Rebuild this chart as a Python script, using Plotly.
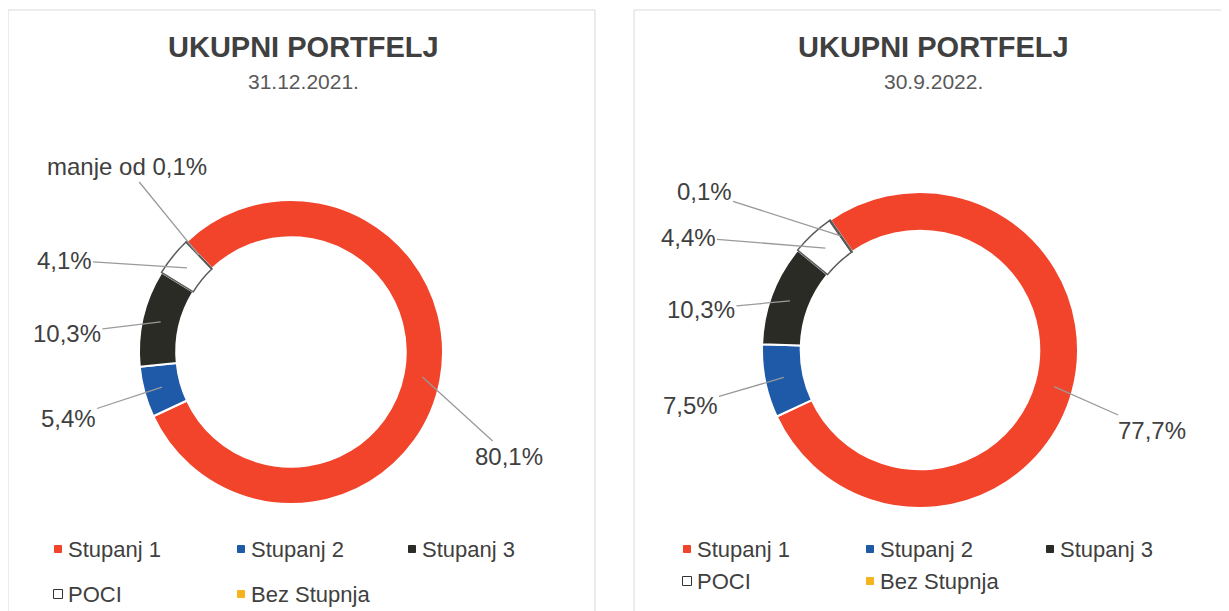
import math
import plotly.graph_objects as go

# page body adds an 8px margin, so the figure is a bit smaller and all
# reference pixel positions are shifted by OFF
OFF = 8
W, H = 1229 - OFF, 611 - OFF

# Categories and colours (same for both charts)
categories = ["Stupanj 1", "Stupanj 2", "Stupanj 3", "POCI", "Bez Stupnja"]
colors = ["#F2432B", "#1F5AA8", "#2B2B26", "#FFFFFF", "#F5B41E"]
edge_colors = ["#FFFFFF", "#FFFFFF", "#FFFFFF", "#5A5A5A", "#5A5A5A"]

# Share of total portfolio (%), per reporting date
title = "UKUPNI PORTFELJ"
dates = ["31.12.2021.", "30.9.2022."]
values_2021 = [80.1, 5.4, 10.3, 4.1, 0.05]
values_2022 = [77.7, 7.5, 10.3, 4.4, 0.1]
labels_2021 = ["80,1%", "5,4%", "10,3%", "4,1%", "manje od 0,1%"]
labels_2022 = ["77,7%", "7,5%", "10,3%", "4,4%", "0,1%"]

# Layout of the two panels (pixels in the reference picture)
panels = [
    dict(values=values_2021, labels=labels_2021, date=dates[0],
         box=(8, 595), cx=291, cy=352, r=152, rot=-43.5, tx=303,
         label_xy=[(509, 456), (68, 418), (67, 333), (64, 260), (127, 167)],
         leg_x=[58, 241, 412], leg_y=[549, 594]),
    dict(values=values_2022, labels=labels_2022, date=dates[1],
         box=(634, 1240), cx=920, cy=350, r=158, rot=-34.6, tx=933,
         label_xy=[(1152, 430), (690, 405), (701, 309), (688, 237), (704, 192)],
         leg_x=[687, 870, 1050], leg_y=[549, 581]),
]

FONT = "Liberation Sans, Arial, sans-serif"
TEXT = "#404040"


def px(x):
    return (x - OFF) / W


def py(y):
    return 1 - (y - OFF) / H


fig = go.Figure()
shapes = []
annotations = []

for p in panels:
    # panel frame
    shapes.append(dict(type="rect", xref="paper", yref="paper",
                       x0=px(p["box"][0]), x1=px(p["box"][1]),
                       y0=py(700), y1=py(10),
                       line=dict(color="#D9D9D9", width=1), fillcolor="rgba(0,0,0,0)",
                       layer="below"))

    cx, cy, r = p["cx"], p["cy"], p["r"]
    fig.add_trace(go.Pie(
        labels=categories,
        values=p["values"],
        hole=0.755,
        sort=False,
        direction="clockwise",
        rotation=p["rot"],
        textinfo="none",
        showlegend=False,
        marker=dict(colors=colors, line=dict(color=edge_colors, width=[2, 2, 2, 1.5, 1.5])),
        domain=dict(x=[px(cx - r), px(cx + r)], y=[py(cy + r), py(cy - r)]),
        hovertemplate="%{label}: %{value}%<extra></extra>",
    ))

    # titles
    annotations.append(dict(text="<b>" + title + "</b>", x=px(p["tx"]), y=py(47),
                            xref="paper", yref="paper", showarrow=False,
                            xanchor="center", yanchor="middle",
                            font=dict(family=FONT, size=29, color=TEXT)))
    annotations.append(dict(text=p["date"], x=px(p["tx"]), y=py(81),
                            xref="paper", yref="paper", showarrow=False,
                            xanchor="center", yanchor="middle",
                            font=dict(family=FONT, size=21, color="#595959")))

    # data labels with leader lines pointing to slice middles
    total = sum(p["values"])
    cum = 0
    for v, lab, (lx, ly) in zip(p["values"], p["labels"], p["label_xy"]):
        a = math.radians(p["rot"] + 360 * (cum + v / 2) / total)
        cum += v
        tx_ = cx + 0.88 * r * math.sin(a)
        ty_ = cy - 0.88 * r * math.cos(a)
        annotations.append(dict(text=lab, x=px(tx_), y=py(ty_), xref="paper", yref="paper",
                                showarrow=True, arrowhead=0, arrowwidth=1.3,
                                arrowcolor="#9A9A9A", ax=lx - tx_, ay=ly - ty_,
                                font=dict(family=FONT, size=24, color=TEXT)))

    # legend: 3 columns, 2 rows
    for i, cat in enumerate(categories):
        mx = p["leg_x"][i % 3]
        my = p["leg_y"][i // 3]
        s = 3.5 if cat != "POCI" else 4.5
        shapes.append(dict(type="rect", xref="paper", yref="paper",
                           x0=px(mx - s), x1=px(mx + s), y0=py(my + s), y1=py(my - s),
                           fillcolor=colors[i],
                           line=dict(color="#333333" if cat == "POCI" else colors[i], width=1)))
        annotations.append(dict(text=cat, x=px(mx + 8), y=py(my), xref="paper", yref="paper",
                                xanchor="left", yanchor="middle", showarrow=False,
                                font=dict(family=FONT, size=22, color=TEXT)))

fig.update_layout(
    width=W, height=H,
    margin=dict(l=0, r=0, t=0, b=0),
    paper_bgcolor="white",
    plot_bgcolor="white",
    shapes=shapes,
    annotations=annotations,
)

fig.write_html("out.html")
